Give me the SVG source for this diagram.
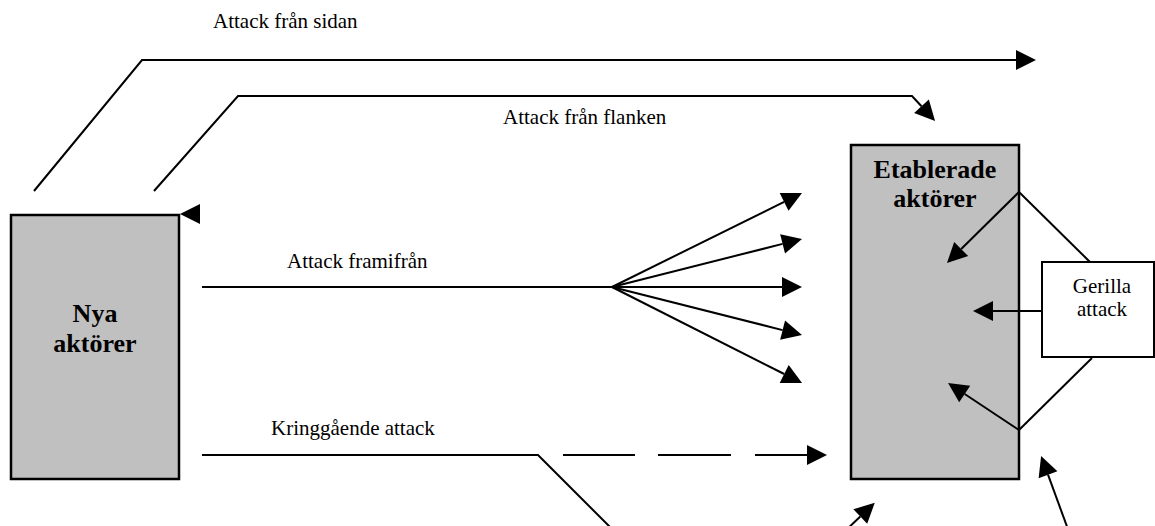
<svg xmlns="http://www.w3.org/2000/svg" width="1155" height="526" viewBox="0 0 1155 526">
  <style>
    .box { fill: #c0c0c0; stroke: #000; stroke-width: 2.5; }
    .wbox { fill: #fff; stroke: #000; stroke-width: 2; }
    .ln { fill: none; stroke: #000; stroke-width: 2; }
    .arr { fill: none; stroke: #000; stroke-width: 2; marker-end: url(#head); }
    .lbl { font-family: "Liberation Serif", "Times New Roman", serif; font-size: 21px; fill: #000; }
    .big { font-family: "Liberation Serif", "Times New Roman", serif; font-size: 26px; font-weight: bold; fill: #000; text-anchor: middle; }
  </style>
  <defs>
    <marker id="head" markerUnits="userSpaceOnUse" markerWidth="20" markerHeight="20" viewBox="0 -10 20 20" refX="0" refY="0" orient="auto" overflow="visible">
      <path d="M0,-10 L20,0 L0,10 Z" fill="#000"/>
    </marker>
  </defs>

  <rect width="1155" height="526" fill="#fff"/>

  <g id="nya">
    <rect class="box" x="11" y="215" width="168" height="264"/>
    <text class="big" x="95" y="322">Nya</text>
    <text class="big" x="95" y="352">aktörer</text>
  </g>

  <g id="etablerade">
    <rect class="box" x="851" y="145" width="168" height="334"/>
    <text class="big" x="935" y="178">Etablerade</text>
    <text class="big" x="935" y="207">aktörer</text>
  </g>

  <g id="gerilla">
    <rect class="wbox" x="1042" y="262" width="112" height="95"/>
    <text class="lbl" x="1102" y="293" text-anchor="middle" font-size="20">Gerilla</text>
    <text class="lbl" x="1102" y="316" text-anchor="middle" font-size="20">attack</text>
  </g>

  <g id="labels">
    <text class="lbl" x="213" y="28">Attack från sidan</text>
    <text class="lbl" x="503" y="124">Attack från flanken</text>
    <text class="lbl" x="287" y="268">Attack framifrån</text>
    <text class="lbl" x="271" y="435">Kringgående attack</text>
  </g>

  <!-- connectors, drawn last so the guerrilla arrows sit on top of the box -->
  <g id="connectors">
    <!-- attack from the side -->
    <path class="arr" d="M34,191 L142,60 L1016,60"/>
    <!-- flank attack -->
    <path class="arr" d="M154,191 L238,96 L912,96 L921.5,106.3"/>
    <!-- frontal attack with fan -->
    <path class="ln" d="M202,287 L612,287"/>
    <path class="arr" d="M612,287 L784.1,201.9"/>
    <path class="arr" d="M612,287 L782.6,243.9"/>
    <path class="arr" d="M612,287 L782,287"/>
    <path class="arr" d="M612,287 L782.6,330.1"/>
    <path class="arr" d="M612,287 L784.2,374"/>
    <!-- encircling attack -->
    <path class="ln" d="M202,455 L538,455 L614,531"/>
    <path class="ln" d="M563,455 L635,455"/>
    <path class="ln" d="M658,455 L731,455"/>
    <path class="arr" d="M755,455 L807,455"/>
    <path class="arr" d="M843,533 L860.3,516.5"/>
    <path class="arr" d="M1069,532 L1048,474.7"/>
    <!-- guerrilla attack -->
    <path class="ln" d="M1090,262 L1019,192"/>
    <path class="arr" d="M1019,192 L961.2,249"/>
    <path class="arr" d="M1042,311 L993,311"/>
    <path class="ln" d="M1092,358 L1019,430"/>
    <path class="arr" d="M1019,430 L964.7,394"/>
    <!-- head at the new entrants box -->
    <path d="M180,214 L200,204 L200,224 Z" fill="#000"/>
  </g>
</svg>
